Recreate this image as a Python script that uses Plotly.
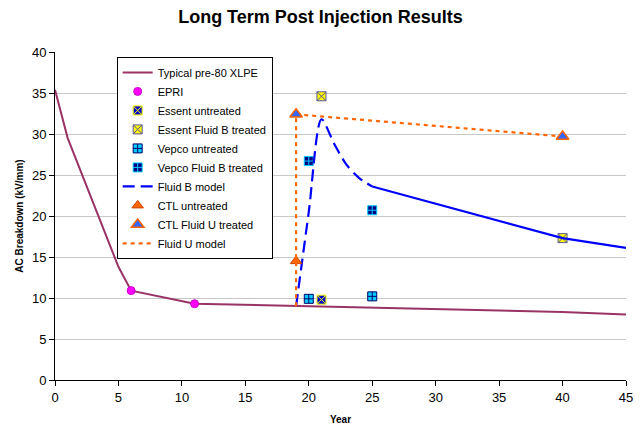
import plotly.graph_objects as go

# Data
xlpe_year = [0, 1, 5, 6, 11, 19, 25, 40, 45]
xlpe_val = [35.4, 29.5, 13.8, 10.9, 9.3, 9.0, 8.8, 8.3, 8.0]

epri_year = [6, 11]
epri_val = [10.9, 9.3]

essent_untr_year = [21]
essent_untr_val = [9.8]

essent_b_year = [21, 40]
essent_b_val = [34.6, 17.3]

vepco_untr_year = [20, 25]
vepco_untr_val = [9.9, 10.2]

vepco_b_year = [20, 25]
vepco_b_val = [26.7, 20.7]

fluid_b_year = [19, 20, 21, 22, 23, 24, 25]
fluid_b_val = [9.0, 20.5, 31.8, 28.8, 26.2, 24.6, 23.6]

fluid_b_tail_year = [25, 40, 45]
fluid_b_tail_val = [23.6, 17.3, 16.1]

ctl_untr_year = [19]
ctl_untr_val = [14.5]

ctl_u_year = [19, 40]
ctl_u_val = [32.4, 29.7]

fluid_u_year = [19, 19, 40]
fluid_u_val = [9.0, 32.4, 29.7]

fig = go.Figure()

fig.add_trace(go.Scatter(x=xlpe_year, y=xlpe_val, mode="lines", name="Typical pre-80 XLPE", legendrank=1,
                         line=dict(color="#993366", width=2)))
fig.add_trace(go.Scatter(x=epri_year, y=epri_val, mode="markers", name="EPRI", legendrank=2,
                         marker=dict(symbol="circle", size=8, color="#FF00FF",
                                     line=dict(color="#CC00CC", width=1))))
fig.add_trace(go.Scatter(x=essent_untr_year, y=essent_untr_val, mode="markers", name="Essent untreated",
                         legendrank=3,
                         marker=dict(symbol="square-x", size=9, color="#0000CC",
                                     line=dict(color="#FFFF00", width=1))))
fig.add_trace(go.Scatter(x=essent_b_year, y=essent_b_val, mode="markers", name="Essent Fluid B treated",
                         legendrank=4,
                         marker=dict(symbol="square-x", size=9, color="#FFFF00",
                                     line=dict(color="#555599", width=1))))
fig.add_trace(go.Scatter(x=vepco_untr_year, y=vepco_untr_val, mode="markers", name="Vepco untreated",
                         legendrank=5,
                         marker=dict(symbol="square-cross", size=9, color="#00CCFF",
                                     line=dict(color="#000066", width=1))))
fig.add_trace(go.Scatter(x=vepco_b_year, y=vepco_b_val, mode="markers", name="Vepco Fluid B treated",
                         legendrank=6,
                         marker=dict(symbol="square-cross", size=9, color="#000080",
                                     line=dict(color="#00CCFF", width=1))))
fig.add_trace(go.Scatter(x=fluid_b_year, y=fluid_b_val, mode="lines", name="Fluid B model", legendrank=7,
                         line=dict(color="#0000FF", width=2.2, dash="12px,6px", shape="spline", smoothing=0.8)))
fig.add_trace(go.Scatter(x=fluid_b_tail_year, y=fluid_b_tail_val, mode="lines", name="Fluid B model",
                         showlegend=False, line=dict(color="#0000FF", width=2.2)))
fig.add_trace(go.Scatter(x=ctl_untr_year, y=ctl_untr_val, mode="markers", name="CTL untreated", legendrank=8,
                         marker=dict(symbol="triangle-up", size=10, color="#FF6600",
                                     line=dict(color="#CC4400", width=1))))
fig.add_trace(go.Scatter(x=fluid_u_year, y=fluid_u_val, mode="lines", name="Fluid U model", legendrank=10,
                         line=dict(color="#FF6600", width=2.2, dash="4px,4px")))
fig.add_trace(go.Scatter(x=ctl_u_year, y=ctl_u_val, mode="markers", name="CTL Fluid U treated", legendrank=9,
                         marker=dict(symbol="triangle-up", size=11, color="#3366FF",
                                     line=dict(color="#FF6600", width=1.5))))

fig.update_layout(
    width=641, height=429,
    margin=dict(l=55, r=15, t=52, b=49),
    paper_bgcolor="white", plot_bgcolor="white",
    font=dict(family="Liberation Sans, Arial, sans-serif", color="black", size=13),
    title=dict(text="<b>Long Term Post Injection Results</b>", x=0.5, xanchor="center",
               y=0.96, yanchor="middle", font=dict(size=18)),
    legend=dict(x=0.108, y=0.985, xanchor="left", yanchor="top",
                bgcolor="white", bordercolor="black", borderwidth=1,
                font=dict(size=11), tracegroupgap=0, itemwidth=30,
                traceorder="normal"),
)
fig.update_xaxes(range=[0, 45], dtick=5, tick0=0, showgrid=False, showline=True, linecolor="black",
                 ticks="outside", ticklen=5, tickcolor="black", automargin=False,
                 title=dict(text="<b>Year</b>", font=dict(size=10), standoff=12))
fig.update_yaxes(range=[0, 40], dtick=5, tick0=0, showgrid=True, gridcolor="#C8C8C8", showline=True,
                 linecolor="black", ticks="outside", ticklen=5, tickcolor="black", zeroline=False,
                 automargin=False,
                 title=dict(text="<b>AC Breakdown (kV/mm)</b>", font=dict(size=10), standoff=6))

fig.write_html("out.html")
